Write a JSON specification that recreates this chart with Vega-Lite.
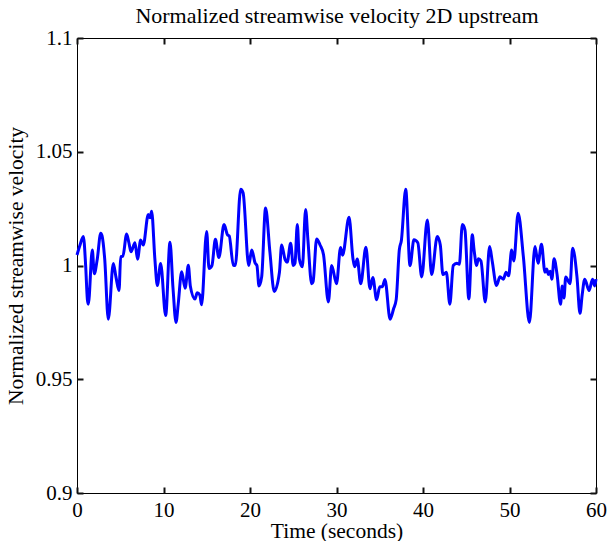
{
  "$schema": "https://vega.github.io/schema/vega-lite/v6.json",
  "width": 519,
  "height": 455,
  "autosize": {"type": "none"},
  "padding": {"left": 77, "top": 38, "right": 11, "bottom": 48},
  "background": "white",
  "config": {
    "view": {"stroke": "black", "strokeWidth": 1},
    "axis": {"labelFont": "Liberation Serif", "titleFont": "Liberation Serif", "labelFontSize": 21, "titleFontSize": 21.5, "titleFontWeight": "normal", "labelColor": "black", "titleColor": "black", "domain": false, "ticks": true, "tickColor": "#111111", "tickWidth": 2, "labelFlush": false, "grid": false}
  },
  "data": {"values": [
    {"t":0,"v":1.0046},{"t":0.35,"v":1.009},{"t":0.73,"v":1.0128},{"t":1.0,"v":1.0},{"t":1.2,"v":0.985},{"t":1.31,"v":0.983},{"t":1.77,"v":1.0068},{"t":2.0,"v":0.9964},{"t":2.35,"v":1.003},{"t":2.74,"v":1.0142},{"t":2.9,"v":1.013},{"t":3.2,"v":1.003},{"t":3.62,"v":0.9764},{"t":4.2,"v":1.0009},{"t":4.5,"v":0.995},{"t":4.86,"v":0.989},{"t":5.05,"v":1.0039},{"t":5.3,"v":1.004},{"t":5.74,"v":1.0138},{"t":6.0,"v":1.010},{"t":6.24,"v":1.006},{"t":6.7,"v":1.010},{"t":7.0,"v":1.0028},{"t":7.36,"v":1.0112},{"t":7.66,"v":1.009},{"t":8.24,"v":1.0224},{"t":8.45,"v":1.021},{"t":8.63,"v":1.0238},{"t":9.0,"v":1.003},{"t":9.29,"v":0.9912},{"t":9.67,"v":1.0009},{"t":10.25,"v":0.978},{"t":10.75,"v":1.0102},{"t":11.1,"v":0.99},{"t":11.45,"v":0.975},{"t":11.7,"v":0.983},{"t":12.1,"v":0.9972},{"t":12.5,"v":0.990},{"t":12.87,"v":1.0001},{"t":13.1,"v":0.991},{"t":13.64,"v":0.9853},{"t":13.9,"v":0.988},{"t":14.2,"v":0.987},{"t":14.4,"v":0.9827},{"t":14.99,"v":1.015},{"t":15.26,"v":0.9987},{"t":15.6,"v":1.0},{"t":16.0,"v":1.0115},{"t":16.4,"v":1.0035},{"t":17.0,"v":1.018},{"t":17.4,"v":1.0135},{"t":17.6,"v":1.013},{"t":18.07,"v":1.0001},{"t":18.3,"v":1.0},{"t":18.92,"v":1.0335},{"t":19.2,"v":1.032},{"t":19.85,"v":1.0},{"t":20.2,"v":1.0068},{"t":20.6,"v":1.001},{"t":20.8,"v":1.0},{"t":21.04,"v":0.991},{"t":21.35,"v":0.995},{"t":21.8,"v":1.0253},{"t":22.3,"v":1.006},{"t":22.8,"v":0.9886},{"t":23.4,"v":0.9969},{"t":23.66,"v":1.009},{"t":24.05,"v":1.0027},{"t":24.3,"v":1.0015},{"t":24.7,"v":1.0098},{"t":25.0,"v":1.0},{"t":25.2,"v":1.001},{"t":25.47,"v":1.018},{"t":25.7,"v":1.003},{"t":26.05,"v":0.9994},{"t":26.43,"v":1.0246},{"t":26.7,"v":1.011},{"t":27.13,"v":0.992},{"t":27.3,"v":0.993},{"t":27.7,"v":1.0117},{"t":28.1,"v":1.009},{"t":28.5,"v":1.0047},{"t":29.06,"v":0.984},{"t":29.44,"v":1.0},{"t":30.0,"v":0.992},{"t":30.47,"v":1.0079},{"t":30.7,"v":1.0045},{"t":31.45,"v":1.0212},{"t":31.9,"v":1.0031},{"t":32.1,"v":0.9994},{"t":32.4,"v":1.0029},{"t":32.8,"v":0.992},{"t":33.4,"v":1.008},{"t":33.87,"v":0.9898},{"t":34.2,"v":0.9947},{"t":34.64,"v":0.985},{"t":35.0,"v":0.9907},{"t":35.3,"v":0.9907},{"t":35.6,"v":0.9938},{"t":36.2,"v":0.9764},{"t":36.6,"v":0.981},{"t":36.9,"v":0.985},{"t":37.26,"v":1.0068},{"t":37.5,"v":1.011},{"t":38.0,"v":1.0335},{"t":38.5,"v":0.9999},{"t":38.95,"v":1.0113},{"t":39.4,"v":1.010},{"t":39.85,"v":0.995},{"t":40.5,"v":1.020},{"t":41.0,"v":0.996},{"t":41.65,"v":1.0128},{"t":42.0,"v":1.009},{"t":42.3,"v":0.996},{"t":42.7,"v":0.997},{"t":43.1,"v":0.983},{"t":43.5,"v":1.0},{"t":43.9,"v":1.001},{"t":44.2,"v":1.0005},{"t":44.55,"v":1.018},{"t":44.85,"v":1.0157},{"t":45.3,"v":0.9853},{"t":45.7,"v":1.0135},{"t":45.9,"v":1.007},{"t":46.2,"v":1.0},{"t":46.4,"v":1.003},{"t":46.7,"v":1.002},{"t":47.2,"v":0.984},{"t":47.7,"v":1.0083},{"t":48.0,"v":1.002},{"t":48.5,"v":0.9912},{"t":48.9,"v":0.995},{"t":49.3,"v":0.994},{"t":49.6,"v":0.997},{"t":49.9,"v":0.9955},{"t":50.25,"v":1.0068},{"t":50.5,"v":1.002},{"t":51.0,"v":1.023},{"t":51.6,"v":1.004},{"t":52.3,"v":0.975},{"t":52.95,"v":1.0083},{"t":53.3,"v":1.001},{"t":53.7,"v":1.0093},{"t":54.1,"v":0.997},{"t":54.3,"v":0.9985},{"t":54.5,"v":0.996},{"t":54.7,"v":0.9975},{"t":54.9,"v":0.994},{"t":55.15,"v":1.003},{"t":55.5,"v":0.996},{"t":55.9,"v":0.983},{"t":56.1,"v":0.991},{"t":56.3,"v":0.9857},{"t":56.5,"v":0.995},{"t":57.0,"v":0.992},{"t":57.3,"v":1.0076},{"t":57.8,"v":0.995},{"t":58.15,"v":0.979},{"t":58.4,"v":0.987},{"t":58.7,"v":0.994},{"t":59.2,"v":0.989},{"t":59.6,"v":0.994},{"t":59.85,"v":0.991},{"t":60,"v":0.994}
  ]},
  "layer": [
    {
      "mark": {"type": "line", "color": "#0000FF", "strokeWidth": 3, "interpolate": "monotone", "strokeJoin": "round"},
      "encoding": {
        "x": {"field": "t", "type": "quantitative", "scale": {"domain": [0, 60], "nice": false, "zero": false},
              "axis": {"orient": "bottom", "values": [0,10,20,30,40,50,60], "ticks": true, "tickColor": "#111111", "tickSize": -6, "title": "Time (seconds)", "labelPadding": 12, "titleY": 44, "titleBaseline": "alphabetic"}},
        "y": {"field": "v", "type": "quantitative", "scale": {"domain": [0.9, 1.1], "nice": false, "zero": false},
              "axis": {"orient": "left", "values": [0.9,0.95,1,1.05,1.1], "format": "~g", "ticks": true, "tickColor": "#111111", "tickSize": -6, "title": "Normalized streamwise velocity", "labelPadding": 11, "titleX": -61, "titleBaseline": "middle"}}
      }
    },
    {
      "mark": {"type": "line", "strokeOpacity": 0},
      "encoding": {
        "x": {"field": "t", "type": "quantitative", "axis": {"orient": "top", "offset": -6, "ticks": true, "tickColor": "#111111", "tickSize": 6, "values": [0,10,20,30,40,50,60], "labels": false, "title": "Normalized streamwise velocity 2D upstream", "titleFontSize": 22, "titleY": -22, "titleBaseline": "alphabetic"}},
        "y": {"field": "v", "type": "quantitative", "axis": {"orient": "right", "offset": -6, "ticks": true, "tickColor": "#111111", "tickSize": 6, "values": [0.9,0.95,1,1.05,1.1], "labels": false, "title": null}}
      }
    }
  ],
  "resolve": {"axis": {"x": "independent", "y": "independent"}}
}
